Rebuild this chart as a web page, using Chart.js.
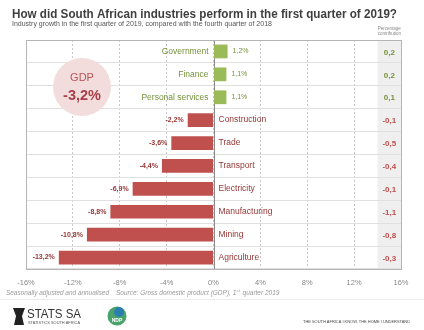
<!DOCTYPE html>
<html>
<head>
<meta charset="utf-8">
<script src="https://cdn.jsdelivr.net/npm/chart.js@4"></script>
<style>
  body { margin: 0; background: #fff; }
  canvas { display: block; }
</style>
</head>
<body>
<canvas id="industryChart" width="424" height="330"></canvas>
<script>
const categories = ['Government', 'Finance', 'Personal services', 'Construction', 'Trade',
  'Transport', 'Electricity', 'Manufacturing', 'Mining', 'Agriculture'];
const growth = [1.2, 1.1, 1.1, -2.2, -3.6, -4.4, -6.9, -8.8, -10.8, -13.2];
const contribution = [0.2, 0.2, 0.1, -0.1, -0.5, -0.4, -0.1, -1.1, -0.8, -0.3];
const gdpGrowth = -3.2;

const FONT = "'Liberation Sans', Arial, sans-serif";
const GREEN = '#9bbb59', RED = '#c0504d';
const GREEN_TXT = '#76923c', RED_TXT = '#953735';

function fmt(v) { return v.toFixed(1).replace('.', ','); }

function txt(ctx, s, x, y, font, color, align, maxW) {
  ctx.font = font;
  ctx.fillStyle = color;
  ctx.textAlign = align || 'left';
  if (maxW) ctx.fillText(s, x, y, maxW); else ctx.fillText(s, x, y);
  const w = ctx.measureText(s).width;
  return maxW ? Math.min(w, maxW) : w;
}

const decorations = {
  id: 'decorations',
  beforeDraw(chart) {
    const { ctx, chartArea: a, scales: { x } } = chart;
    // shaded contribution column
    const l = x.getPixelForValue(14);
    ctx.save();
    ctx.fillStyle = '#efefef';
    ctx.fillRect(l, a.top, a.right - l, a.bottom - a.top);
    ctx.restore();
  },
  beforeDatasetsDraw(chart) {
    const { ctx, chartArea: a, scales: { x } } = chart;
    const z = Math.round(x.getPixelForValue(0)) + 0.5;
    ctx.save();
    ctx.strokeStyle = '#8a8a8a';
    ctx.lineWidth = 1;
    ctx.beginPath();
    ctx.moveTo(z, a.top);
    ctx.lineTo(z, a.bottom);
    ctx.stroke();
    ctx.restore();
  },
  afterDraw(chart) {
    const { ctx, chartArea: a, scales: { x } } = chart;
    const meta = chart.getDatasetMeta(0);
    const z = x.getPixelForValue(0);
    const colX = (x.getPixelForValue(14) + a.right) / 2;
    ctx.save();
    ctx.textBaseline = 'middle';

    // category, value and contribution labels
    meta.data.forEach((bar, i) => {
      const v = growth[i];
      const y = bar.y;
      if (v >= 0) {
        txt(ctx, categories[i], z - 5, y, '8.5px ' + FONT, GREEN_TXT, 'right');
        txt(ctx, fmt(v) + '%', bar.x + 5, y, '7px ' + FONT, GREEN_TXT, 'left');
        txt(ctx, fmt(contribution[i]), colX, y + 1, 'bold 8px ' + FONT, GREEN_TXT, 'center');
      } else {
        txt(ctx, categories[i], z + 5, y, '8.5px ' + FONT, RED_TXT, 'left');
        txt(ctx, fmt(v) + '%', bar.x - 4, y, 'bold 7px ' + FONT, RED_TXT, 'right');
        txt(ctx, fmt(contribution[i]), colX, y + 1, 'bold 8px ' + FONT, RED, 'center');
      }
    });

    // plot frame
    ctx.strokeStyle = '#b5b5b5';
    ctx.lineWidth = 1;
    ctx.strokeRect(Math.round(a.left) + 0.5, Math.round(a.top) + 0.5,
      Math.round(a.right - a.left), Math.round(a.bottom - a.top));

    // GDP bubble
    ctx.fillStyle = '#f2dcdc';
    ctx.beginPath();
    ctx.arc(82, 87, 29, 0, Math.PI * 2);
    ctx.fill();
    txt(ctx, 'GDP', 82, 78, '11px ' + FONT, '#b5535a', 'center');
    txt(ctx, fmt(gdpGrowth) + '%', 82, 96, 'bold 14.5px ' + FONT, '#a8404a', 'center');

    // titles
    ctx.textBaseline = 'alphabetic';
    txt(ctx, 'How did South African industries perform in the first quarter of 2019?',
      12, 17.5, 'bold 12.5px ' + FONT, '#3f3f3f', 'left', 385);
    txt(ctx, 'Industry growth in the first quarter of 2019, compared with the fourth quarter of 2018',
      12, 26, '7px ' + FONT, '#555', 'left', 263);
    txt(ctx, 'Percentage', colX, 30, '4.5px ' + FONT, '#888', 'center');
    txt(ctx, 'contribution', colX, 35, '4.5px ' + FONT, '#888', 'center');

    // footer
    const foot = 'italic 6.5px ' + FONT, grey = '#9a9a9a';
    txt(ctx, 'Seasonally adjusted and annualised', 6, 295, foot, grey, 'left', 103);
    let fx = 116;
    fx += txt(ctx, 'Source: Gross domestic product (GDP), 1', fx, 295, foot, grey, 'left');
    fx += txt(ctx, 'st', fx + 0.3, 292, 'italic 4.2px ' + FONT, grey, 'left') + 3;
    txt(ctx, 'quarter 2019', fx, 295, foot, grey, 'left');
    ctx.fillStyle = '#ececec';
    ctx.fillRect(0, 299, 424, 1);

    // Stats SA mark
    ctx.fillStyle = '#222';
    ctx.beginPath();
    ctx.moveTo(13, 308); ctx.lineTo(25, 308); ctx.lineTo(22, 316);
    ctx.lineTo(24, 325); ctx.lineTo(14, 325); ctx.lineTo(16, 316);
    ctx.closePath();
    ctx.fill();
    txt(ctx, 'STATS SA', 27, 318, '12px ' + FONT, '#333', 'left', 54);
    txt(ctx, 'STATISTICS SOUTH AFRICA', 28, 323.5, '4px ' + FONT, '#555', 'left', 52);

    // NDP mark
    ctx.fillStyle = '#4aa36b';
    ctx.beginPath();
    ctx.arc(117, 316, 9.5, 0, Math.PI * 2);
    ctx.fill();
    ctx.fillStyle = '#2a7fb0';
    ctx.beginPath();
    ctx.arc(119, 312, 5, 0, Math.PI * 2);
    ctx.fill();
    txt(ctx, 'NDP', 117, 322, 'bold 5px ' + FONT, '#ffffff', 'center');

    txt(ctx, 'THE SOUTH AFRICA I KNOW, THE HOME I UNDERSTAND', 303, 323, '4.2px ' + FONT, '#444', 'left', 107);
    ctx.restore();
  }
};

new Chart(document.getElementById('industryChart'), {
  type: 'bar',
  data: {
    labels: categories,
    datasets: [{
      data: growth,
      backgroundColor: growth.map(v => v >= 0 ? GREEN : RED),
      barPercentage: 0.6,
      categoryPercentage: 1
    }]
  },
  options: {
    indexAxis: 'y',
    responsive: false,
    animation: false,
    layout: { padding: { left: 26, right: 23, top: 40, bottom: 34 } },
    plugins: { legend: { display: false }, tooltip: { enabled: false } },
    scales: {
      x: {
        min: -16,
        max: 16,
        ticks: {
          stepSize: 4,
          padding: 9,
          color: '#888',
          font: { family: FONT, size: 7.5 },
          callback: v => v + '%'
        },
        grid: { color: '#c8c8c8', drawTicks: false },
        border: { display: false, dash: [2, 2] }
      },
      y: {
        ticks: { display: false },
        grid: { color: '#e0e0e0', drawTicks: false },
        border: { display: false }
      }
    }
  },
  plugins: [decorations]
});
</script>
</body>
</html>
